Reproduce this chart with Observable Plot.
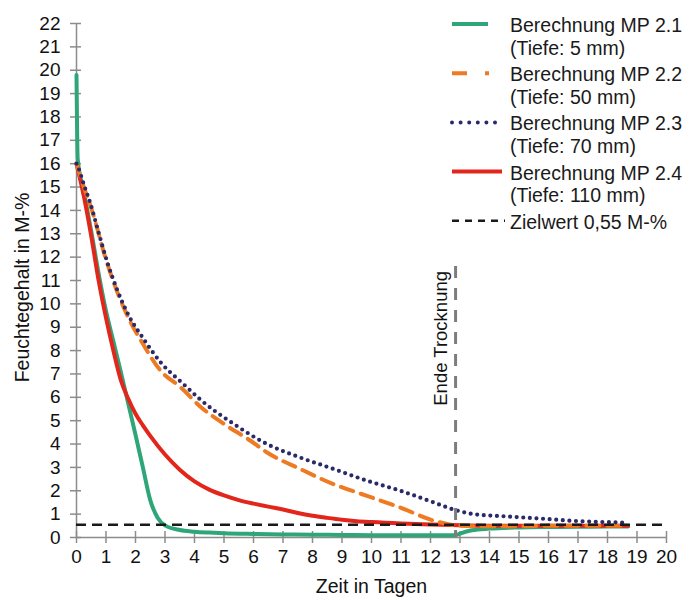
<!DOCTYPE html>
<html>
<head>
<meta charset="utf-8">
<script src="https://cdn.jsdelivr.net/npm/d3@7"></script>
<script src="https://cdn.jsdelivr.net/npm/@observablehq/plot@0.6"></script>
<style>
  html, body { margin: 0; padding: 0; background: #fff; }
  #wrap { position: relative; width: 693px; height: 597px; font-family: "Liberation Sans", Arial, Helvetica, sans-serif; }
  #wrap svg.plot { position: absolute; left: 0; top: 0; }
  .leg-text { position: absolute; left: 510px; font-size: 19.5px; line-height: 22px; color: #1a1a1a; white-space: nowrap; }
  .leg-sw { position: absolute; left: 0; top: 0; pointer-events: none; }
</style>
</head>
<body>
<div id="wrap"></div>
<script>
// ---------- data ----------
const xTicks = [0, 1, 2, 3, 4, 5, 6, 7, 8, 9, 10, 11, 12, 13, 14, 15, 16, 17, 18, 19, 20];
const yTicks = [0, 1, 2, 3, 4, 5, 6, 7, 8, 9, 10, 11, 12, 13, 14, 15, 16, 17, 18, 19, 20, 21, 22];

// MP 2.1 (Tiefe 5 mm)
const mp21Days   = [0, 0.02, 0.04, 0.25, 0.5, 0.75, 1.0, 1.25, 1.5, 1.75, 2.0, 2.25, 2.5, 2.75, 3.0, 3.5, 4.0, 4.5, 5.0, 6.0, 7.0, 8.0, 9.0, 10.0, 11.0, 12.0, 12.85, 13.0, 13.4, 14.0, 15.0, 16.0, 17.0, 18.0, 18.7];
const mp21Values = [19.8, 17.5, 16.2, 14.8, 13.1, 11.3, 9.7, 8.4, 7.1, 5.75, 4.4, 3.0, 1.6, 0.85, 0.52, 0.32, 0.25, 0.21, 0.18, 0.15, 0.13, 0.12, 0.11, 0.1, 0.1, 0.1, 0.1, 0.17, 0.31, 0.38, 0.43, 0.45, 0.46, 0.47, 0.47];

// MP 2.2 (Tiefe 50 mm)
const mp22Days   = [0, 0.25, 0.5, 1.0, 1.4, 1.8, 2.2, 2.85, 3.53, 4.2, 5.0, 5.9, 6.46, 7.59, 8.72, 9.85, 10.98, 12.11, 12.6, 13.0, 14.0, 15.0, 16.0, 17.0, 18.0, 18.7];
const mp22Values = [16.0, 15.0, 14.1, 11.9, 10.45, 9.3, 8.4, 7.14, 6.43, 5.6, 4.86, 4.14, 3.64, 2.93, 2.28, 1.78, 1.28, 0.72, 0.57, 0.5, 0.48, 0.48, 0.5, 0.5, 0.5, 0.5];

// MP 2.3 (Tiefe 70 mm)
const mp23Days   = [0, 0.07, 0.25, 0.47, 0.76, 1.04, 1.38, 1.77, 2.22, 2.85, 3.64, 4.2, 5.33, 6.46, 7.59, 8.72, 9.85, 10.98, 12.11, 12.85, 13.47, 14.6, 15.73, 16.86, 18.55];
const mp23Values = [16.0, 15.8, 15.1, 14.3, 13.0, 11.8, 10.6, 9.5, 8.6, 7.5, 6.55, 5.9, 4.86, 4.0, 3.42, 2.93, 2.43, 2.0, 1.5, 1.17, 1.0, 0.9, 0.81, 0.71, 0.64];

// MP 2.4 (Tiefe 110 mm)
const mp24Days   = [0, 0.25, 0.5, 0.75, 1.0, 1.25, 1.5, 1.75, 2.0, 2.25, 2.5, 3.0, 3.5, 4.0, 4.5, 5.0, 5.5, 6.0, 6.5, 7.0, 7.5, 8.0, 8.5, 9.0, 9.5, 10.0, 11.0, 12.0, 13.0, 14.0, 15.0, 16.0, 17.0, 18.0, 18.7];
const mp24Values = [16.0, 14.6, 12.9, 11.0, 9.4, 8.0, 6.75, 5.95, 5.3, 4.8, 4.35, 3.55, 2.9, 2.4, 2.05, 1.8, 1.6, 1.45, 1.32, 1.2, 1.05, 0.93, 0.84, 0.76, 0.7, 0.66, 0.6, 0.56, 0.52, 0.5, 0.5, 0.5, 0.5, 0.5, 0.5];

const zielwert = [0.55];          // M-%
const zielwertRange = [0, 20];    // Tage
const endeTrocknung = [12.85];    // Tage
const endeTrocknungTop = 11.6;    // M-%

const legendTitles = ["Berechnung MP 2.1", "Berechnung MP 2.2", "Berechnung MP 2.3", "Berechnung MP 2.4", "Zielwert 0,55 M-%"];
const legendDepths = ["(Tiefe: 5 mm)", "(Tiefe: 50 mm)", "(Tiefe: 70 mm)", "(Tiefe: 110 mm)", ""];
const xLabel = "Zeit in Tagen";
const yLabel = "Feuchtegehalt in M-%";
const endeLabel = "Ende Trocknung";

// ---------- styles ----------
const C = {green: "#2fa67a", orange: "#ee7a22", navy: "#2a2a6a", red: "#e3261c", black: "#1a1a1a", axis: "#8c8c8c", vline: "#7d7d7d"};
const FONT = '"Liberation Sans", Arial, Helvetica, sans-serif';

const toRows = (xs, ys) => xs.map((x, i) => ({x, y: ys[i]}));

const plot = Plot.plot({
  width: 693,
  height: 597,
  marginLeft: 76,
  marginRight: 27,
  marginTop: 23,
  marginBottom: 60,
  style: {fontFamily: FONT, background: "transparent", overflow: "visible"},
  x: {domain: [0, 20], axis: null},
  y: {domain: [0, 22], axis: null},
  marks: [
    // axis lines
    Plot.ruleX([0], {y1: 0, y2: 22, stroke: C.axis, strokeWidth: 1.5}),
    Plot.ruleY([0], {x1: 0, x2: 20, stroke: C.axis, strokeWidth: 1.5}),
    // tick marks (crossing the axis)
    Plot.axisY({ticks: yTicks, tickSize: 11, dx: 5, tickFormat: () => "", stroke: C.axis, strokeWidth: 1.5, label: null}),
    Plot.axisX({ticks: xTicks, tickSize: 12, dy: -6, tickFormat: () => "", stroke: C.axis, strokeWidth: 1.5, label: null}),
    // tick labels
    Plot.axisY({ticks: yTicks, tickSize: 0, tickPadding: 16, fontSize: 19, fill: "#111", label: null}),
    Plot.axisX({ticks: xTicks, tickSize: 0, tickPadding: 12, fontSize: 19, fill: "#111", label: null}),
    // axis titles
    Plot.text([yLabel], {frameAnchor: "left", rotate: -90, textAnchor: "middle", lineAnchor: "middle", dx: -54, dy: 7, fontSize: 19.5, fill: "#111"}),
    Plot.text([xLabel], {frameAnchor: "bottom", textAnchor: "middle", lineAnchor: "middle", dy: 49, dx: 0, fontSize: 19.5, fill: "#111"}),
    // series
    Plot.line(toRows(mp21Days, mp21Values), {x: "x", y: "y", stroke: C.green, strokeWidth: 4, curve: "monotone-x"}),
    Plot.line(toRows(mp24Days, mp24Values), {x: "x", y: "y", stroke: C.red, strokeWidth: 4, curve: "monotone-x"}),
    Plot.line(toRows(mp22Days, mp22Values), {x: "x", y: "y", stroke: C.orange, strokeWidth: 4, strokeDasharray: "13,8", curve: "monotone-x"}),
    Plot.line(toRows(mp23Days, mp23Values), {x: "x", y: "y", stroke: C.navy, strokeWidth: 4.2, strokeDasharray: "0,6.6", strokeLinecap: "round", curve: "monotone-x"}),
    // Zielwert
    Plot.ruleY(zielwert, {x1: zielwertRange[0], x2: zielwertRange[1], stroke: C.black, strokeWidth: 2.5, strokeDasharray: "10,6"}),
    // Ende Trocknung
    Plot.ruleX(endeTrocknung, {y1: endeTrocknungTop, y2: 0, stroke: C.vline, strokeWidth: 3, strokeDasharray: "12,10"}),
    Plot.text(endeTrocknung, {x: d => d, y: 5.64, text: () => endeLabel, rotate: -90, textAnchor: "start", lineAnchor: "bottom", dx: -9, fontSize: 18.5, fill: "#111"})
  ]
});
plot.classList.add("plot");
const wrap = document.getElementById("wrap");
wrap.appendChild(plot);

// ---------- legend (overlay) ----------
const legendStyles = [
  {stroke: C.green, width: 4, dash: null, x2: 488, cap: "butt"},
  {stroke: C.orange, width: 4, dash: "15,18", x2: 489, cap: "butt"},
  {stroke: C.navy, width: 4, dash: "0,8.6", x2: 500, cap: "round"},
  {stroke: C.red, width: 4, dash: null, x2: 502, cap: "butt"},
  {stroke: C.black, width: 2.5, dash: "7,6", x2: 505, cap: "butt"}
];
const rowTop = i => 25 + 49.2 * i;
const ns = "http://www.w3.org/2000/svg";
const sw = document.createElementNS(ns, "svg");
sw.setAttribute("class", "leg-sw");
sw.setAttribute("width", 693);
sw.setAttribute("height", 597);
legendTitles.forEach((t, i) => {
  const s = legendStyles[i];
  const y = rowTop(i);
  const ln = document.createElementNS(ns, "line");
  ln.setAttribute("x1", 452); ln.setAttribute("x2", s.x2);
  ln.setAttribute("y1", y - 1); ln.setAttribute("y2", y - 1);
  ln.setAttribute("stroke", s.stroke);
  ln.setAttribute("stroke-width", s.width);
  ln.setAttribute("stroke-linecap", s.cap);
  if (s.dash) ln.setAttribute("stroke-dasharray", s.dash);
  sw.appendChild(ln);
  const d1 = document.createElement("div");
  d1.className = "leg-text";
  d1.style.top = (y - 11) + "px";
  d1.textContent = t;
  wrap.appendChild(d1);
  if (legendDepths[i]) {
    const d2 = document.createElement("div");
    d2.className = "leg-text";
    d2.style.top = (y - 11 + 22.5) + "px";
    d2.textContent = legendDepths[i];
    wrap.appendChild(d2);
  }
});
wrap.appendChild(sw);
</script>
</body>
</html>
